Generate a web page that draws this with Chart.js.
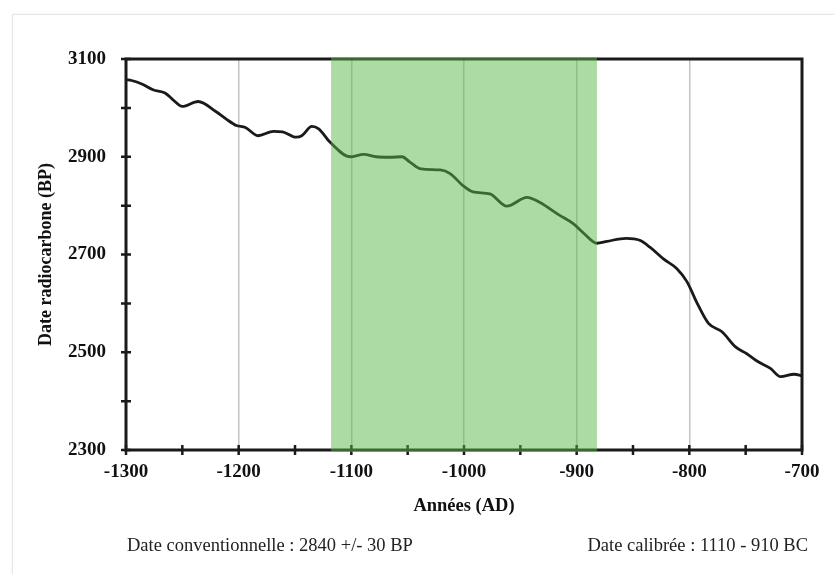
<!DOCTYPE html>
<html>
<head>
<meta charset="utf-8">
<script src="https://cdn.jsdelivr.net/npm/chart.js@4"></script>
<style>
  body { margin: 0; background: #fff; }
  #card { position: absolute; left: 12px; top: 14px; width: 900px; height: 600px; border: 1px solid #e6e6e6; box-shadow: 0 0 3px rgba(0,0,0,0.06); }
  #wrap { position: absolute; left: 0; top: 0; width: 834px; height: 574px; }
  .foot { position: absolute; top: 535px; font-family: "Liberation Serif", serif; font-size: 18.5px; color: #222; }
</style>
</head>
<body>
<div id="card"></div>
<div id="wrap"><canvas id="myChart" width="834" height="574"></canvas></div>
<div class="foot" style="left:127px">Date conventionnelle : 2840 +/- 30 BP</div>
<div class="foot" style="right:26px">Date calibrée : 1110 - 910 BC</div>
<script>
// courbe de calibration
const years = [-1300, -1295, -1286, -1276, -1265, -1259, -1250, -1236, -1220, -1211, -1202, -1194, -1183, -1169, -1161, -1149, -1144, -1135, -1129, -1119,
  -1101, -1089, -1078, -1066, -1055, -1048, -1038, -1021, -1012, -1001, -992, -977, -962, -944, -933, -915, -903, -894, -882,
  -873, -856, -844, -835, -823, -811, -802, -793, -783, -771, -759, -749, -740, -728, -719, -707, -700];
const bp = [3058, 3056, 3049, 3037, 3030, 3018, 3003, 3013, 2992, 2977, 2964, 2960, 2943, 2952, 2951, 2940, 2943, 2962, 2957, 2930,
  2900, 2905, 2900, 2899, 2900, 2889, 2875, 2873, 2865, 2841, 2828, 2824, 2799, 2817, 2807, 2780, 2763, 2744, 2723,
  2727, 2733, 2729, 2715, 2691, 2671, 2644, 2600, 2559, 2542, 2511, 2497, 2482, 2467, 2450, 2455, 2452];

const bandStart = -1118;
const bandEnd = -882;

const points = years.map((y, i) => ({x: y, y: bp[i]}));

const serif = "'Liberation Serif', 'DejaVu Serif', serif";

const framePlugin = {
  id: 'frame',
  beforeDatasetsDraw(chart) {
    const {ctx, chartArea: a, scales} = chart;
    ctx.save();
    ctx.strokeStyle = '#1a1a1a';
    ctx.lineWidth = 3;
    ctx.strokeRect(a.left, a.top, a.right - a.left, a.bottom - a.top);
    ctx.lineWidth = 2.5;
    ctx.beginPath();
    for (const t of scales.x.ticks) {
      const px = scales.x.getPixelForValue(t.value);
      ctx.moveTo(px, a.bottom - 5); ctx.lineTo(px, a.bottom + 5);
    }
    for (const t of scales.y.ticks) {
      const py = scales.y.getPixelForValue(t.value);
      ctx.moveTo(a.left - 5, py); ctx.lineTo(a.left + 5, py);
    }
    ctx.stroke();
    ctx.restore();
  },
  afterDatasetsDraw(chart) {
    const {ctx, chartArea: a, scales} = chart;
    const x0 = scales.x.getPixelForValue(bandStart);
    const x1 = scales.x.getPixelForValue(bandEnd);
    ctx.save();
    ctx.fillStyle = 'rgba(89,185,73,0.5)';
    ctx.fillRect(x0, a.top - 2, x1 - x0, a.bottom - a.top + 4);
    ctx.restore();
  }
};

new Chart("myChart", {
  type: "line",
  data: {
    datasets: [{
      data: points,
      borderColor: "#1a1a1a",
      borderWidth: 2.8,
      pointRadius: 0,
      cubicInterpolationMode: 'monotone',
      fill: false
    }]
  },
  options: {
    responsive: false,
    animation: false,
    layout: {padding: {left: 36, right: 32, top: 59, bottom: 53}},
    plugins: {legend: {display: false}, tooltip: {enabled: false}},
    scales: {
      x: {
        type: 'linear', min: -1300, max: -700,
        ticks: {
          stepSize: 50, padding: 11, color: '#111',
          font: {family: serif, size: 19, weight: 'bold'},
          callback: v => (v % 100 === 0 ? v : '')
        },
        grid: {
          drawTicks: false,
          color: c => (c.tick && c.tick.value % 100 === 0 ? '#c4c4c4' : 'rgba(0,0,0,0)'),
          lineWidth: 1.5
        },
        border: {display: false},
        title: {display: true, text: 'Années (AD)', color: '#111', font: {family: serif, size: 18.5, weight: 'bold'}, padding: {top: 0, bottom: 4}}
      },
      y: {
        min: 2300, max: 3100,
        afterFit: s => { s.width = 90; },
        ticks: {
          stepSize: 100, padding: 20, color: '#111',
          font: {family: serif, size: 19, weight: 'bold'},
          callback: v => ((v - 2300) % 200 === 0 ? v : '')
        },
        grid: {display: false, drawTicks: false},
        border: {display: false},
        title: {display: true, text: 'Date radiocarbone (BP)', color: '#111', font: {family: serif, size: 18, weight: 'bold'}, padding: {top: 0, bottom: 0}}
      }
    }
  },
  plugins: [framePlugin]
});
</script>
</body>
</html>
